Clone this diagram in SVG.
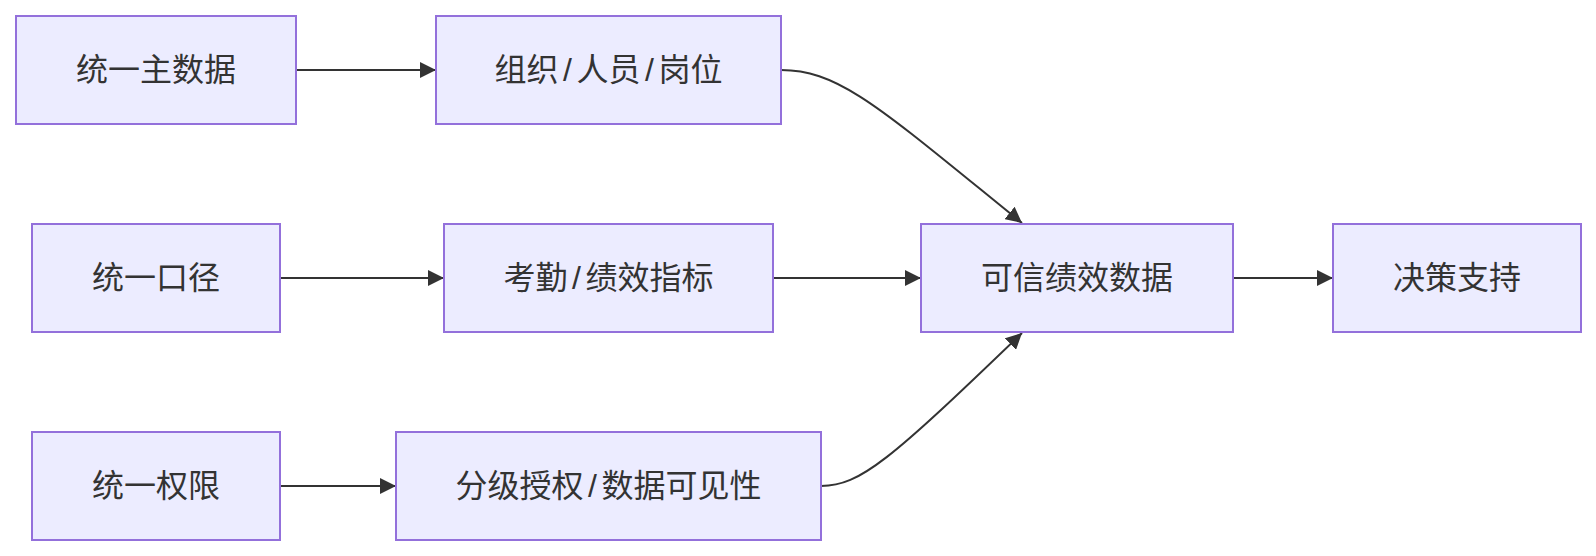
<svg xmlns="http://www.w3.org/2000/svg" width="1596" height="556" viewBox="0 0 1596 556">
<style>
.node rect{fill:#ECECFF;stroke:#9370DB;stroke-width:2}
.node text{fill:#333;font-family:"Liberation Sans","Noto Sans CJK SC",sans-serif;font-size:32px;text-anchor:middle;dominant-baseline:central}
.edges path{fill:none;stroke:#333;stroke-width:2;marker-end:url(#arrow)}
</style>
<defs>
<marker id="arrow" viewBox="0 0 10 10" refX="10" refY="5" markerUnits="userSpaceOnUse" markerWidth="16" markerHeight="16" orient="auto">
<path d="M0,0 L10,5 L0,10 z" fill="#333"/>
</marker>
</defs>
<rect width="1596" height="556" fill="#fff"/>
<g class="edges">
<path d="M296,70 L436,70"/>
<path d="M781,70 C840,70 880,108 1022,223"/>
<path d="M280,278 L444,278"/>
<path d="M773,278 L921,278"/>
<path d="M1233,278 L1333,278"/>
<path d="M280,486 L396,486"/>
<path d="M821,486 C860,486 890,460 1022,333"/>
</g>
<g id="n1" class="node"><rect x="16" y="16" width="280" height="108"/><text x="156" y="70">统一主数据</text></g>
<g id="n2" class="node"><rect x="436" y="16" width="345" height="108"/><text x="608.5" y="70">组织<tspan dx="4.5">/</tspan><tspan dx="4.5">人员</tspan><tspan dx="4.5">/</tspan><tspan dx="4.5">岗位</tspan></text></g>
<g id="n3" class="node"><rect x="32" y="224" width="248" height="108"/><text x="156" y="278">统一口径</text></g>
<g id="n4" class="node"><rect x="444" y="224" width="329" height="108"/><text x="608.5" y="278">考勤<tspan dx="4.5">/</tspan><tspan dx="4.5">绩效指标</tspan></text></g>
<g id="n5" class="node"><rect x="32" y="432" width="248" height="108"/><text x="156" y="486">统一权限</text></g>
<g id="n6" class="node"><rect x="396" y="432" width="425" height="108"/><text x="608.5" y="486">分级授权<tspan dx="4.5">/</tspan><tspan dx="4.5">数据可见性</tspan></text></g>
<g id="n7" class="node"><rect x="921" y="224" width="312" height="108"/><text x="1077" y="278">可信绩效数据</text></g>
<g id="n8" class="node"><rect x="1333" y="224" width="248" height="108"/><text x="1457" y="278">决策支持</text></g>
</svg>
